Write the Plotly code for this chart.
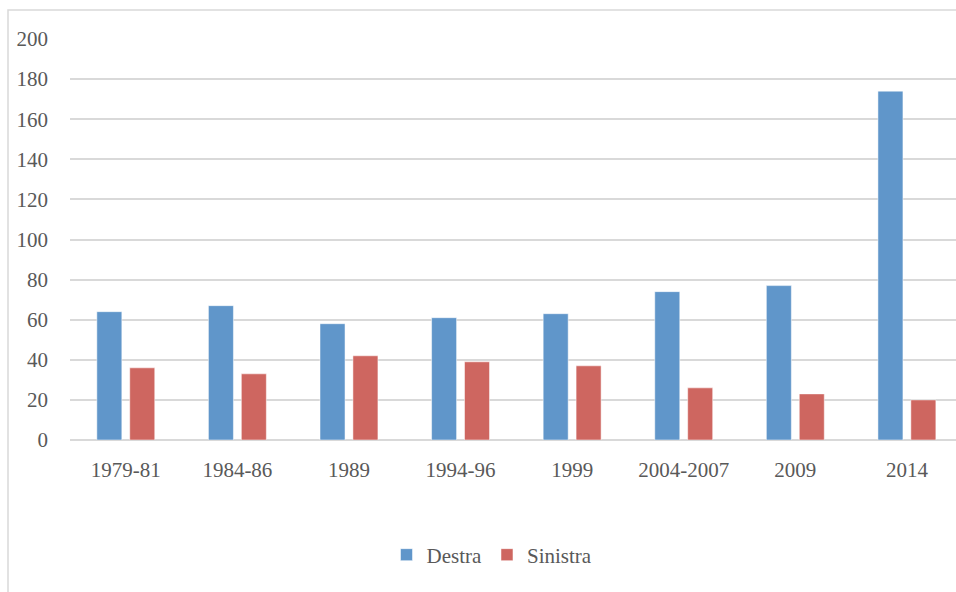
import plotly.graph_objects as go

categories = ["1979-81", "1984-86", "1989", "1994-96", "1999", "2004-2007", "2009", "2014"]
destra = [64, 67, 58, 61, 63, 74, 77, 174]
sinistra = [36, 33, 42, 39, 37, 26, 23, 20]
y_ticks = [0, 20, 40, 60, 80, 100, 120, 140, 160, 180, 200]

FONT = "Liberation Serif"
TXT = "#595959"
GRID = "#d9d9d9"

fig = go.Figure()
fig.add_trace(go.Bar(name="Destra", x=categories, y=destra,
                     marker=dict(color="#6096CA", line=dict(color="rgba(255,255,255,0.5)", width=1))))
fig.add_trace(go.Bar(name="Sinistra", x=categories, y=sinistra,
                     marker=dict(color="#CE6660", line=dict(color="rgba(255,255,255,0.5)", width=1))))

L, T, B = 70, 38, 152
W, H = 956, 592
pw = W - L
ph = H - T - B

fig.update_layout(
    width=W, height=H,
    margin=dict(l=L, r=0, t=T, b=B, pad=0),
    paper_bgcolor="white", plot_bgcolor="white",
    barmode="group", bargap=0.41, bargroupgap=0.24,
    font=dict(family=FONT, size=21, color=TXT),
    showlegend=True,
    legend=dict(orientation="h", x=(492 - L) / pw, xanchor="center",
                y=(H - B - 555) / ph, yanchor="middle",
                font=dict(family=FONT, size=21, color=TXT),
                itemwidth=30, bgcolor="rgba(0,0,0,0)"),
    xaxis=dict(range=[-0.5, 7.44], showgrid=False, showline=False, zeroline=False,
               ticks="", ticklabelstandoff=15, tickfont=dict(family=FONT, size=21, color=TXT)),
    yaxis=dict(range=[0, 200.5], tickvals=y_ticks, showgrid=True, gridcolor=GRID, gridwidth=1.5,
               zeroline=True, zerolinecolor=GRID, zerolinewidth=1.5, showline=False,
               ticks="", ticklabelstandoff=21, tickfont=dict(family=FONT, size=21, color=TXT)),
    shapes=[dict(type="rect", xref="paper", yref="paper",
                 x0=(8 - L) / pw, x1=(W + 20 - L) / pw,
                 y0=(H - B - (H + 20)) / ph, y1=(H - B - 10) / ph,
                 line=dict(color=GRID, width=1.5), fillcolor="rgba(0,0,0,0)", layer="below")],
)

fig.write_html("out.html")
